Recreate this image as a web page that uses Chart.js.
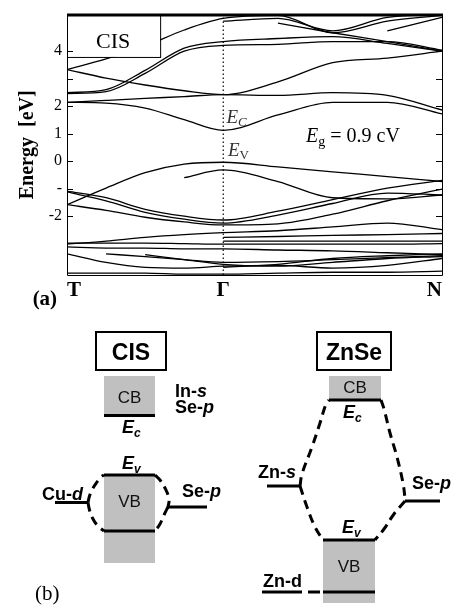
<!DOCTYPE html>
<html>
<head>
<meta charset="utf-8">
<title>CIS band structure and level diagram</title>
<script src="https://cdn.jsdelivr.net/npm/chart.js@4.4.1/dist/chart.umd.min.js"></script>
<style>
  body { margin: 0; background: #fff; }
  #wrap { position: relative; width: 459px; height: 610px; background: #fff; }
  canvas { position: absolute; left: 0; }
  #bandChart { top: 0; }
  #levelChart { top: 310px; }
</style>
</head>
<body>
<div id="wrap">
  <canvas id="bandChart" width="459" height="310"></canvas>
  <canvas id="levelChart" width="459" height="300"></canvas>
</div>
<script>
// ---- (a) band structure along T - Γ - N, energies in eV ----
var kPoints = [0, 0.25, 0.5, 0.75, 1, 1.35, 1.7, 2.05, 2.4];
var kTicks = [0, 1, 2.4];
var kLabels = ['T', 'Γ', 'N'];
var energyTicks = [4, 3, 2, 1, 0, -1, -2];
var energyTickLabels = ['4', '', '2', '1', '0', '-', '-2'];

// conduction bands
var cbA = [3.33, 3.72, 4.18, 4.77, 5.19, 5.30, 4.67, 5.09, 5.30];
var cbB = [null, null, null, null, 5.09, 5.19, 4.74, 5.23, 5.33];
var cbC = [null, null, null, null, null, null, null, 4.74, 5.23];
var cbD = [null, null, null, null, null, 5.02, 4.67, 4.35, 4.00];
var cb5 = [2.49, 2.60, 3.30, 4.11, 4.35, 4.46, 4.53, 4.28, 4.00];
var cb4 = [2.46, 2.53, 3.19, 4.00, 4.21, 4.25, 4.35, 4.35, 4.04];
var cb3 = [3.33, 3.02, 2.77, 2.56, 2.42, 2.88, 3.58, 3.75, 4.00];
var cb2 = [2.14, 2.21, 2.28, 2.35, 2.42, 2.39, 2.49, 2.39, 1.86];
var cb1 = [2.14, 2.11, 1.93, 1.51, 1.12, 1.68, 2.14, 2.14, 1.72];

// valence bands
var vb1 = [-1.58, -0.98, -0.42, -0.11, -0.04, -0.21, -0.39, -0.56, -0.74];
var vb2 = [null, null, null, -0.60, -0.32, -0.74, -1.33, -1.37, -1.23];
var vb3 = [-1.09, -1.33, -1.75, -2.00, -2.14, -1.82, -1.40, -0.98, -0.70];
var vb4 = [-1.12, -1.44, -1.86, -2.11, -2.25, -1.96, -1.54, -1.16, -1.23];
var vb5 = [-1.58, -1.79, -2.04, -2.21, -2.32, -2.28, -1.93, -1.44, -1.02];
var vb6 = [-3.02, -2.91, -2.77, -2.67, -2.60, -2.53, -2.39, -2.25, -2.49];
var vb7 = [-2.98, -2.98, -2.98, -3.00, -3.02, -3.02, -3.02, -3.02, -3.00];
var vb8 = [-3.12, -3.16, -3.16, -3.19, -3.19, -3.23, -3.26, -3.33, -3.40];
var vb9 = [-3.37, -3.68, -3.86, -3.89, -3.82, -3.79, -3.89, -3.79, -3.54];
var vb10 = [null, -3.37, -3.47, -3.58, -3.68, -3.65, -3.58, -3.51, -3.44];
var vb11 = [null, null, -3.40, -3.58, -3.75, -3.82, -3.68, -3.54, -3.47];
var vb12 = [-4.07, -4.07, -4.07, -4.11, -4.11, -4.07, -4.04, -4.04, -4.00];
var vb13 = [null, null, null, null, -2.77, -2.74, -2.70, -2.67, -2.63];
var vb14 = [null, null, null, null, -2.91, -2.91, -2.91, -2.91, -2.91];
var vb15 = [null, null, null, null, -3.86, -3.75, -3.54, -3.44, -3.37];

var bands = [cbA, cbB, cbC, cbD, cb5, cb4, cb3, cb2, cb1,
             vb1, vb2, vb3, vb4, vb5, vb6, vb7, vb8, vb9, vb10, vb11, vb12, vb13, vb14, vb15];

// ---- (b) schematic level diagram (arbitrary energy units) ----
var boxLabels = ['CB', 'VB', 'CB', 'VB'];
var boxLeft = [10.4, 10.4, 32.9, 32.3];
var boxRight = [15.5, 15.5, 38.1, 37.5];
var boxTop = [23.4, 13.5, 23.4, 7.0];
var boxBottom = [19.45, 4.7, 21.0, 0.7];

var levelNames = ['CIS Ec', 'CIS Ev', 'CIS VB', 'Cu-d', 'CIS Se-p', 'ZnSe Ec', 'ZnSe Ev', 'ZnSe VB', 'Zn-s', 'Zn-d', 'Zn-d link', 'ZnSe Se-p'];
var levelLeft = [10.4, 10.4, 10.4, 5.5, 16.8, 32.9, 32.3, 32.3, 26.7, 26.2, 30.8, 40.5];
var levelRight = [15.5, 15.5, 15.5, 8.8, 20.7, 38.1, 37.5, 37.5, 30.0, 30.2, 32.0, 44.0];
var levelEnergy = [19.45, 13.5, 7.9, 10.75, 10.3, 21.0, 7.0, 1.8, 12.4, 1.8, 1.8, 10.9];

var linkX = [
  [8.8, 8.95, 9.25, 9.7, 10.1, 10.4],
  [8.8, 8.95, 9.3, 9.8, 10.4],
  [15.5, 16.0, 16.5, 16.9, 16.8],
  [16.8, 16.4, 16.0, 15.5],
  [30.0, 30.2, 31.2, 32.0, 32.6, 32.9],
  [30.0, 30.7, 31.5, 32.3],
  [38.1, 38.4, 39.0, 39.7, 40.3, 40.5],
  [40.5, 39.4, 38.4, 37.5]
];
var linkY = [
  [10.75, 11.4, 12.1, 12.8, 13.3, 13.5],
  [10.75, 10.0, 9.1, 8.4, 7.9],
  [13.5, 13.0, 12.2, 11.1, 10.3],
  [10.3, 9.5, 8.6, 7.9],
  [12.4, 13.6, 16.3, 18.7, 20.6, 21.0],
  [12.4, 10.3, 8.3, 7.0],
  [21.0, 20.1, 17.7, 15.3, 12.7, 11.2],
  [10.9, 9.6, 8.1, 7.0]
];

var SERIF = '"Liberation Serif", "DejaVu Serif", serif';
var SANS = '"Liberation Sans", Arial, sans-serif';

// draws a run of text pieces (for subscripts / italics)
function drawParts(ctx, parts, x, y, align) {
  var w = 0;
  parts.forEach(function (p) {
    ctx.font = p.font;
    p.w = ctx.measureText(p.text).width;
    w += p.w;
  });
  var cx = align === 'center' ? x - w / 2 : x;
  ctx.textAlign = 'left';
  ctx.textBaseline = 'alphabetic';
  parts.forEach(function (p) {
    ctx.font = p.font;
    ctx.fillStyle = p.color || '#000';
    ctx.fillText(p.text, cx, y + (p.dy || 0));
    cx += p.w;
  });
}

var bandPlugin = {
  id: 'bandFrame',
  afterDatasetsDraw: function (chart) {
    var ctx = chart.ctx, a = chart.chartArea;
    var xs = chart.scales.x, ys = chart.scales.y;
    ctx.save();
    // CIS label box
    var bx1 = xs.getPixelForValue(0), bx2 = xs.getPixelForValue(0.596);
    var by1 = ys.getPixelForValue(5.33), by2 = ys.getPixelForValue(3.79);
    ctx.fillStyle = '#fff';
    ctx.fillRect(bx1, by1, bx2 - bx1, by2 - by1);
    ctx.strokeStyle = '#000';
    ctx.lineWidth = 1;
    ctx.strokeRect(bx1 + 0.5, by1 + 0.5, bx2 - bx1, by2 - by1);
    drawParts(ctx, [{ text: 'CIS', font: '22px ' + SERIF }], xs.getPixelForValue(0.295), ys.getPixelForValue(4.11), 'center');

    drawParts(ctx, [
      { text: 'E', font: 'italic 19px ' + SERIF, color: '#333' },
      { text: 'C', font: 'italic 13px ' + SERIF, color: '#333', dy: 3 }
    ], xs.getPixelForValue(1.02), ys.getPixelForValue(1.40), 'left');
    drawParts(ctx, [
      { text: 'E', font: 'italic 19px ' + SERIF, color: '#333' },
      { text: 'V', font: '13px ' + SERIF, color: '#333', dy: 3 }
    ], xs.getPixelForValue(1.03), ys.getPixelForValue(0.18), 'left');
    drawParts(ctx, [
      { text: 'E', font: 'italic 20px ' + SERIF },
      { text: 'g', font: '14px ' + SERIF, dy: 4 },
      { text: ' = 0.9 cV', font: '20px ' + SERIF }
    ], xs.getPixelForValue(1.53), ys.getPixelForValue(0.70), 'left');

    drawParts(ctx, [{ text: '(a)', font: 'bold 21px ' + SERIF }], xs.getPixelForValue(-0.22), ys.getPixelForValue(-5.23), 'left');

    // frame and inner tick marks
    ctx.strokeStyle = '#000';
    ctx.lineWidth = 1;
    ctx.beginPath();
    ctx.moveTo(a.left + 0.5, a.top);
    ctx.lineTo(a.left + 0.5, a.bottom + 0.5);
    ctx.lineTo(a.right + 0.5, a.bottom + 0.5);
    ctx.lineTo(a.right + 0.5, a.top);
    energyTicks.forEach(function (v) {
      var py = Math.round(ys.getPixelForValue(v)) + 0.5;
      ctx.moveTo(a.left, py); ctx.lineTo(a.left + 6, py);
      ctx.moveTo(a.right, py); ctx.lineTo(a.right - 6, py);
    });
    ctx.stroke();
    ctx.lineWidth = 3;
    ctx.beginPath();
    ctx.moveTo(a.left, a.top + 0.5);
    ctx.lineTo(a.right + 1, a.top + 0.5);
    ctx.stroke();
    ctx.restore();
  }
};

var bandDatasets = bands.map(function (b) {
  return {
    data: kPoints.map(function (k, i) { return { x: k, y: b[i] }; }),
    borderColor: '#000',
    borderWidth: 1.3,
    pointRadius: 0,
    cubicInterpolationMode: 'monotone',
    spanGaps: false,
    fill: false,
    order: 1
  };
});
bandDatasets.push({
  data: [{ x: kTicks[1], y: -4.14 }, { x: kTicks[1], y: 5.33 }],
  borderColor: '#000',
  borderWidth: 1.2,
  borderDash: [1.5, 2.5],
  pointRadius: 0,
  tension: 0,
  fill: false,
  order: 2
});

new Chart(document.getElementById('bandChart').getContext('2d'), {
  type: 'line',
  data: { datasets: bandDatasets },
  options: {
    responsive: false,
    animation: false,
    devicePixelRatio: 1,
    layout: { padding: { top: 5, right: 17, left: 0, bottom: 0 } },
    plugins: { legend: { display: false }, tooltip: { enabled: false } },
    scales: {
      x: {
        type: 'linear', min: 0, max: 2.4,
        afterBuildTicks: function (s) { s.ticks = kTicks.map(function (v) { return { value: v }; }); },
        afterFit: function (s) { s.height = 35; },
        grid: { display: false, drawTicks: false },
        border: { display: false },
        ticks: {
          autoSkip: false, maxRotation: 0, align: 'inner', padding: 3, color: '#000',
          font: { family: SERIF, size: 21, weight: 'bold' },
          callback: function (v) { return kLabels[kTicks.indexOf(v)]; }
        }
      },
      y: {
        type: 'linear', min: -4.14, max: 5.33,
        afterBuildTicks: function (s) { s.ticks = energyTicks.map(function (v) { return { value: v }; }); },
        afterFit: function (s) { s.width = 67; },
        grid: { display: false, drawTicks: false },
        border: { display: false },
        ticks: {
          autoSkip: false, padding: 5, color: '#000',
          font: { family: SERIF, size: 16 },
          callback: function (v) { return energyTickLabels[energyTicks.indexOf(v)]; }
        },
        title: {
          display: true, text: 'Energy  [eV]', color: '#000',
          font: { family: SERIF, size: 20, weight: 'bold' },
          padding: { top: 16, bottom: 0 }
        }
      }
    }
  },
  plugins: [bandPlugin]
});

// ---- (b) ----
var levelPlugin = {
  id: 'levelText',
  afterDatasetsDraw: function (chart) {
    var ctx = chart.ctx, xs = chart.scales.x, ys = chart.scales.y;
    function px(v) { return xs.getPixelForValue(v); }
    function py(v) { return ys.getPixelForValue(v); }
    ctx.save();
    // framed material names
    ctx.strokeStyle = '#000';
    ctx.lineWidth = 2;
    ctx.strokeRect(px(9.6), py(27.8), px(16.6) - px(9.6), py(24.0) - py(27.8));
    ctx.strokeRect(px(31.7), py(27.8), px(39.1) - px(31.7), py(24.0) - py(27.8));
    drawParts(ctx, [{ text: 'CIS', font: 'bold 23px ' + SANS }], px(13.1), py(25.0), 'center');
    drawParts(ctx, [{ text: 'ZnSe', font: 'bold 23px ' + SANS }], px(35.4), py(25.0), 'center');

    var bandTextY = [20.7, 10.3, 21.7, 3.8];
    boxLabels.forEach(function (t, i) {
      drawParts(ctx, [{ text: t, font: '17px ' + SANS, color: '#111' }], px((boxLeft[i] + boxRight[i]) / 2), py(bandTextY[i]), 'center');
    });

    var B = 'bold 18px ' + SANS, BI = 'italic bold 18px ' + SANS, BIs = 'italic bold 12px ' + SANS;
    var items = [
      [[{ text: 'E', font: BI }, { text: 'c', font: BIs, dy: 4 }], 12.2, 17.7],
      [[{ text: 'E', font: BI }, { text: 'v', font: BIs, dy: 4 }], 12.2, 14.1],
      [[{ text: 'In-', font: B }, { text: 's', font: BI }], 17.5, 21.3],
      [[{ text: 'Se-', font: B }, { text: 'p', font: BI }], 17.5, 19.7],
      [[{ text: 'Cu-', font: B }, { text: 'd', font: BI }], 4.2, 11.0],
      [[{ text: 'Se-', font: B }, { text: 'p', font: BI }], 18.2, 11.3],
      [[{ text: 'E', font: BI }, { text: 'c', font: BIs, dy: 4 }], 34.3, 19.2],
      [[{ text: 'Zn-', font: B }, { text: 's', font: BI }], 25.8, 13.2],
      [[{ text: 'E', font: BI }, { text: 'v', font: BIs, dy: 4 }], 34.2, 7.7],
      [[{ text: 'Zn-d', font: B }], 26.3, 2.3],
      [[{ text: 'Se-', font: B }, { text: 'p', font: BI }], 41.2, 12.1],
      [[{ text: '(b)', font: '21px ' + SERIF }], 3.5, 1.0]
    ];
    items.forEach(function (it) { drawParts(ctx, it[0], px(it[1]), py(it[2]), 'left'); });
    ctx.restore();
  }
};

var levelDatasets = [];
boxLabels.forEach(function (t, i) {
  levelDatasets.push({
    label: t,
    data: [{ x: boxLeft[i], y: boxTop[i] }, { x: boxRight[i], y: boxTop[i] }],
    borderWidth: 0,
    borderColor: 'rgba(0,0,0,0)',
    backgroundColor: '#c0c0c0',
    fill: { value: boxBottom[i] },
    pointRadius: 0,
    order: 3
  });
});
linkX.forEach(function (xs, i) {
  levelDatasets.push({
    data: xs.map(function (x, j) { return { x: x, y: linkY[i][j] }; }),
    borderColor: '#000',
    borderWidth: 3,
    borderDash: [9, 6],
    borderCapStyle: 'butt',
    tension: 0.4,
    pointRadius: 0,
    fill: false,
    order: 2
  });
});
levelNames.forEach(function (n, i) {
  levelDatasets.push({
    label: n,
    data: [{ x: levelLeft[i], y: levelEnergy[i] }, { x: levelRight[i], y: levelEnergy[i] }],
    borderColor: '#000',
    borderWidth: 3,
    borderCapStyle: 'butt',
    pointRadius: 0,
    fill: false,
    order: 1
  });
});

new Chart(document.getElementById('levelChart').getContext('2d'), {
  type: 'line',
  data: { datasets: levelDatasets },
  options: {
    responsive: false,
    animation: false,
    devicePixelRatio: 1,
    layout: { padding: 0 },
    plugins: { legend: { display: false }, tooltip: { enabled: false } },
    scales: {
      x: { type: 'linear', display: false, min: 0, max: 45.9 },
      y: { type: 'linear', display: false, min: 0, max: 30 }
    }
  },
  plugins: [levelPlugin]
});
</script>
</body>
</html>
